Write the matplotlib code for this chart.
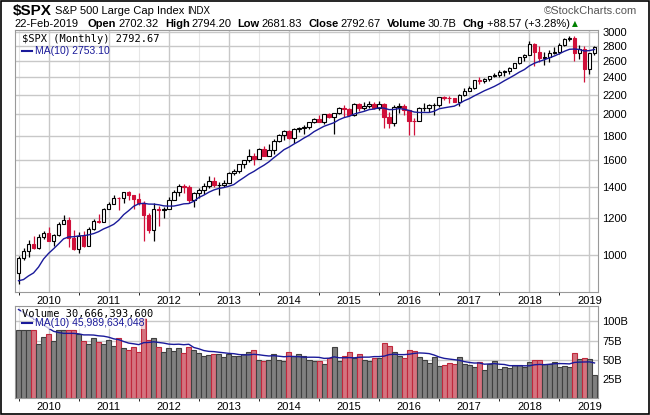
import numpy as np
import matplotlib.pyplot as plt
from matplotlib.ticker import FixedLocator, NullLocator

# monthly bars Jul 2009 .. Feb 2019
start_year, start_month = 2009, 7

closes = [987, 1021, 1057, 1036, 1096, 1115,
          1074, 1104, 1169, 1187, 1089, 1031, 1102, 1049, 1141, 1183, 1181, 1258,
          1286, 1327, 1326, 1364, 1345, 1321, 1292, 1219, 1131, 1253, 1247, 1258,
          1312, 1366, 1408, 1398, 1310, 1362, 1379, 1407, 1441, 1412, 1416, 1426,
          1498, 1515, 1569, 1598, 1631, 1606, 1686, 1633, 1682, 1757, 1806, 1848,
          1783, 1859, 1872, 1884, 1924, 1960, 1931, 2003, 1972, 2018, 2068, 2059,
          1995, 2105, 2068, 2086, 2107, 2063, 2104, 1972, 1920, 2079, 2080, 2044,
          1940, 1932, 2060, 2065, 2097, 2099, 2174, 2171, 2168, 2126, 2199, 2239,
          2279, 2364, 2363, 2384, 2412, 2423, 2470, 2472, 2519, 2575, 2648, 2674,
          2824, 2714, 2641, 2648, 2705, 2718, 2816, 2902, 2914, 2712, 2760, 2507,
          2704, 2793]
highs = [997, 1039, 1080, 1101, 1111, 1130,
         1150, 1113, 1181, 1220, 1206, 1132, 1120, 1129, 1149, 1196, 1228, 1262,
         1302, 1344, 1332, 1364, 1371, 1346, 1356, 1307, 1230, 1293, 1277, 1269,
         1333, 1378, 1420, 1422, 1415, 1363, 1392, 1426, 1475, 1471, 1434, 1448,
         1504, 1530, 1570, 1598, 1687, 1654, 1698, 1709, 1730, 1775, 1813, 1849,
         1850, 1867, 1883, 1897, 1924, 1968, 1991, 2005, 2019, 2018, 2075, 2093,
         2064, 2119, 2117, 2126, 2135, 2130, 2133, 2113, 2021, 2094, 2116, 2104,
         2038, 1962, 2073, 2111, 2103, 2120, 2178, 2194, 2188, 2169, 2214, 2278,
         2301, 2371, 2401, 2398, 2418, 2454, 2484, 2491, 2520, 2582, 2657, 2695,
         2873, 2836, 2801, 2717, 2742, 2791, 2848, 2916, 2941, 2940, 2815, 2800,
         2708, 2794]
lows = [869, 979, 992, 1030, 1030, 1085,
        1071, 1045, 1101, 1171, 1041, 1029, 1011, 1040, 1050, 1131, 1173, 1187,
        1257, 1290, 1249, 1294, 1311, 1258, 1282, 1074, 1114, 1075, 1158, 1202,
        1258, 1312, 1340, 1357, 1292, 1267, 1325, 1354, 1396, 1403, 1343, 1398,
        1426, 1485, 1501, 1536, 1581, 1560, 1604, 1627, 1633, 1646, 1746, 1767,
        1770, 1737, 1834, 1814, 1859, 1915, 1931, 1905, 1964, 1821, 2001, 1972,
        1988, 1981, 2039, 2048, 2067, 2056, 2044, 1867, 1872, 1893, 2019, 1993,
        1812, 1810, 1937, 2034, 2025, 1992, 2074, 2148, 2120, 2122, 2084, 2188,
        2245, 2267, 2322, 2329, 2353, 2405, 2407, 2418, 2446, 2520, 2566, 2605,
        2683, 2533, 2585, 2553, 2594, 2698, 2692, 2796, 2864, 2604, 2631, 2347,
        2444, 2682]
opens = [919] + closes[:-1]

# volume in billions
volumes = [89, 89, 89, 89, 71, 80,
           83, 75, 89, 89, 89, 89, 83, 75, 71, 78, 73, 70,
           76, 68, 78, 65, 62, 66, 60, 104, 76, 78, 67, 60,
           65, 61, 65, 59, 66, 62, 59, 55, 56, 57, 57, 54,
           57, 55, 55, 57, 60, 62, 50, 48, 50, 58, 50, 48,
           60, 55, 58, 55, 50, 48, 48, 45, 52, 66, 48, 55,
           60, 52, 57, 50, 48, 52, 52, 72, 68, 60, 55, 52,
           62, 61, 54, 49, 46, 53, 42, 43, 46, 44, 54, 44,
           43, 41, 47, 37, 45, 48, 38, 40, 39, 43, 43, 40,
           47, 50, 50, 44, 44, 47, 41, 42, 40, 59, 51, 52,
           51, 30]

header_fields = [("Open", "2702.32"), ("High", "2794.20"), ("Low", "2681.83"),
                 ("Close", "2792.67"), ("Volume", "30.7B"), ("Chg", "+88.57 (+3.28%)")]

closes = np.array(closes, float)
opens = np.array(opens, float)
highs = np.array(highs, float)
lows = np.array(lows, float)
volumes = np.array(volumes, float)
n = len(closes)
x = np.arange(n)

prev = np.concatenate([[opens[0]], closes[:-1]])
down = closes < prev

# MA(10) seeded with the ten months before Jul 2009
pre = np.array([1166, 969, 896, 903, 826, 735, 798, 873, 919, 919], float)
ma_price = np.convolve(np.concatenate([pre, closes]), np.ones(10) / 10, "valid")[1:]
vol_pre = np.array([115, 125, 135, 125, 115, 120, 125, 115, 105, 100], float)
ma_vol = np.convolve(np.concatenate([vol_pre, volumes]), np.ones(10) / 10, "valid")[1:]

plt.rcParams["font.family"] = ["Liberation Sans", "DejaVu Sans"]

W, H = 650, 415
fig = plt.figure(figsize=(W / 100, H / 100), dpi=100)
fig.patch.set_facecolor("white")
fig.add_artist(plt.Rectangle((0.002, 0.002), 0.996, 0.995, transform=fig.transFigure,
                             fill=False, ec="black", lw=1.2))

ax = fig.add_axes([15 / W, 1 - 292 / H, 583 / W, 262 / H])
axv = fig.add_axes([15 / W, 1 - 398 / H, 583 / W, 92 / H], sharex=ax)

# year gridlines at January
years = list(range(2010, 2020))
year_pos = [(y - start_year) * 12 + (1 - start_month) for y in years]
minor_pos = [p + 6 for p in [year_pos[0] - 12] + year_pos]

for a in (ax, axv):
    a.set_xlim(-0.7, n - 0.3)
    a.xaxis.set_major_locator(FixedLocator(year_pos))
    a.xaxis.set_minor_locator(FixedLocator(minor_pos))
    a.grid(True, which="major", color="#c8c8c8", lw=1)
    a.grid(True, which="minor", axis="x", color="#e6e6e6", lw=0.8)
    a.yaxis.tick_right()
    a.tick_params(length=0, labelsize=8, pad=3)
    a.set_axisbelow(True)
    for s in a.spines.values():
        s.set_color("#999999")

# candles
for i in range(n):
    col = "#d0103a" if down[i] else "black"
    ax.vlines(x[i], lows[i], highs[i], color=col, lw=0.9, zorder=2)
    lo, hi = sorted([opens[i], closes[i]])
    face = col if closes[i] < opens[i] else "white"
    ax.bar(x[i], max(hi - lo, 2), bottom=lo, width=0.7, color=face,
           edgecolor=col, lw=0.8, zorder=3)
ax.plot(x, ma_price, color="#1a1a9a", lw=1, zorder=4)

ax.set_yscale("log")
ax.set_ylim(835, 3030)
pticks = [1000, 1200, 1400, 1600, 1800, 2000, 2200, 2400, 2600, 2800, 3000]
ax.yaxis.set_major_locator(FixedLocator(pticks))
ax.yaxis.set_minor_locator(NullLocator())
ax.set_yticklabels([str(t) for t in pticks])
ax.set_xticklabels([str(y) for y in years])
ax.tick_params(axis="x", labelbottom=True)

ax.text(0.012, 0.985, "\\$SPX (Monthly) 2792.67", transform=ax.transAxes, fontsize=7.5,
        va="top", family="DejaVu Sans Mono")
ax.plot([0.012, 0.03], [0.92, 0.92], transform=ax.transAxes, color="#1a1a9a", lw=1.5)
ax.text(0.034, 0.92, "MA(10) 2753.10", transform=ax.transAxes, fontsize=7.5,
        va="center", color="#1a1a9a")

# volume
vcol = np.where(down, "#d4737f", "#808080")
vedge = np.where(down, "#c0283c", "#404040")
axv.bar(x, volumes, width=1.0, color=vcol, edgecolor=vedge, lw=0.8, zorder=2)
axv.plot(x, ma_vol, color="#1a1a9a", lw=1, zorder=3)
axv.set_ylim(0, 120)
axv.yaxis.set_major_locator(FixedLocator([25, 50, 75, 100]))
axv.set_yticklabels(["25B", "50B", "75B", "100B"])
axv.set_xticklabels([str(y) for y in years])
axv.text(0.012, 0.97, "Volume 30,666,393,600", transform=axv.transAxes, fontsize=7.5,
         va="top", family="DejaVu Sans Mono", zorder=5,
         bbox=dict(fc="white", ec="none", pad=0.5, alpha=0.7))
axv.plot([0.012, 0.03], [0.81, 0.81], transform=axv.transAxes, color="#1a1a9a",
         lw=1.5, zorder=5)
axv.text(0.034, 0.81, "MA(10) 45,989,634,048", transform=axv.transAxes, fontsize=7.5,
         va="center", color="#1a1a9a", zorder=5,
         bbox=dict(fc="white", ec="none", pad=0.3, alpha=0.7))

# header, pieces placed one after another
renderer = fig.canvas.get_renderer()

def put(xpix, ypix, s, gap=3, **kw):
    t = fig.text(xpix / W, 1 - ypix / H, s, va="center", **kw)
    bb = t.get_window_extent(renderer)
    return bb.x1 + gap

px = put(13, 11, "$SPX", fontsize=11, fontweight="bold")
px = put(px, 11, "S&P 500 Large Cap Index", fontsize=8)
put(px, 11, "INDX", fontsize=7)
fig.text(637 / W, 1 - 11 / H, "©StockCharts.com", fontsize=8, va="center", ha="right",
         color="#555555")
put(14, 24, "22-Feb-2019", fontsize=8)
px = 88
for label, val in header_fields:
    px = put(px, 24, label, gap=2, fontsize=8, fontweight="bold")
    px = put(px, 24, val, gap=6, fontsize=8)
put(px - 4, 24, "▲", fontsize=5.5, color="green", family="DejaVu Sans")

fig.savefig("out.png", dpi=100)
